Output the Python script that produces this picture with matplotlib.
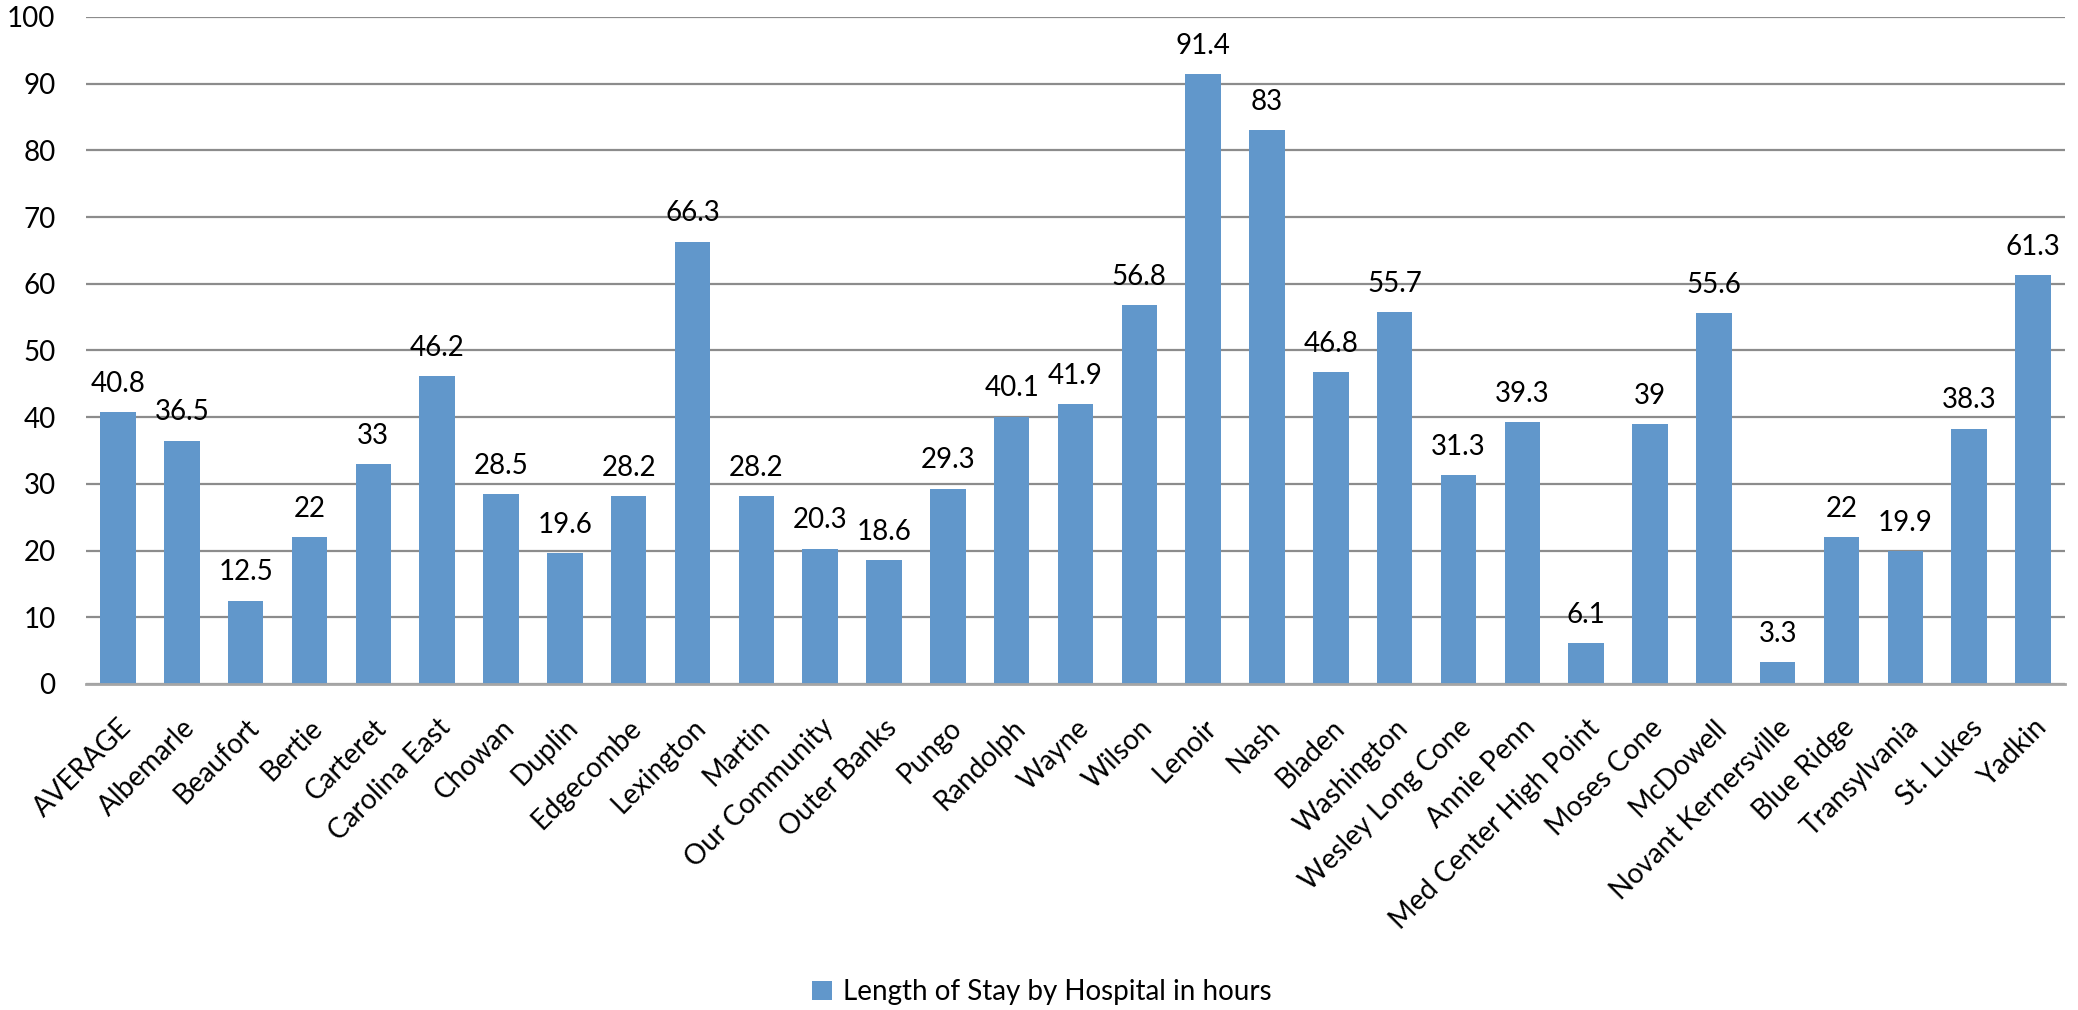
import matplotlib
matplotlib.use("Agg")
import matplotlib.pyplot as plt
import numpy as np

hospitals = ["AVERAGE", "Albemarle", "Beaufort", "Bertie", "Carteret", "Carolina East",
             "Chowan", "Duplin", "Edgecombe", "Lexington", "Martin", "Our Community",
             "Outer Banks", "Pungo", "Randolph", "Wayne", "Wilson", "Lenoir", "Nash",
             "Bladen", "Washington", "Wesley Long Cone", "Annie Penn",
             "Med Center High Point", "Moses Cone", "McDowell", "Novant Kernersville",
             "Blue Ridge", "Transylvania", "St. Lukes", "Yadkin"]
hours = [40.8, 36.5, 12.5, 22, 33, 46.2, 28.5, 19.6, 28.2, 66.3, 28.2, 20.3, 18.6,
         29.3, 40.1, 41.9, 56.8, 91.4, 83, 46.8, 55.7, 31.3, 39.3, 6.1, 39, 55.6,
         3.3, 22, 19.9, 38.3, 61.3]
series_name = "Length of Stay by Hospital in hours"
y_ticks = [0, 10, 20, 30, 40, 50, 60, 70, 80, 90, 100]

plt.rcParams['font.family'] = ['Lato', 'DejaVu Sans']
FS = 20

fig = plt.figure(figsize=(20.78, 10.10), dpi=100)
ax = fig.add_axes([0.0414, 0.3228, 0.9523, 0.6604])

x = np.arange(len(hospitals))
bars = ax.bar(x, hours, width=0.556, color="#6197CB", label=series_name, zorder=3)

for xi, v in zip(x, hours):
    ax.annotate(f"{v:g}", (xi, v), xytext=(0, 11), textcoords="offset points",
                ha="center", va="bottom", fontsize=FS, color="black")

ax.set_xlim(-0.5, len(hospitals) - 0.5)
ax.set_ylim(0, 100)
ax.set_yticks(y_ticks)
ax.set_yticklabels([str(t) for t in y_ticks], fontsize=FS)
ax.set_xticks(x)
ax.set_xticklabels(hospitals, rotation=45, ha="right", rotation_mode="anchor", fontsize=FS)
ax.tick_params(axis="both", length=0)
ax.tick_params(axis="y", pad=22)
ax.tick_params(axis="x", pad=22)

ax.grid(axis="y", color="#8C8C8C", linewidth=1.6, zorder=0)
for s in ["top", "right", "left"]:
    ax.spines[s].set_visible(False)
ax.spines["bottom"].set_color("#A6A6A6")
ax.spines["bottom"].set_linewidth(2)
ax.spines["bottom"].set_zorder(4)

fig.legend(handles=[bars], labels=[series_name], loc="center",
           bbox_to_anchor=(1042 / 2078, 1 - 992 / 1010), frameon=False,
           fontsize=FS, handlelength=0.7, handleheight=0.7, handletextpad=0.4)

fig.savefig("out.png", dpi=100)
